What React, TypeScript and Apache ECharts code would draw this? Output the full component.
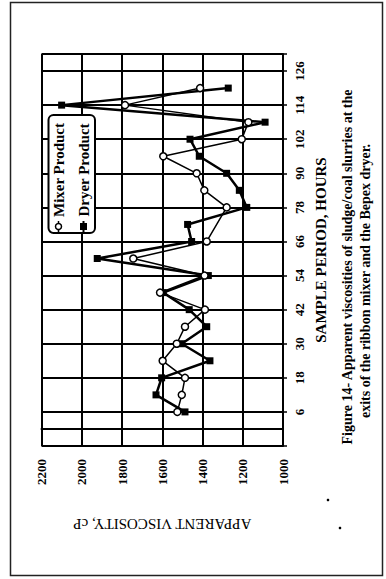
import React, { useEffect, useRef } from "react";
import * as echarts from "echarts";

const hours = [6, 12, 18, 24, 30, 36, 42, 48, 54, 60, 66, 72, 78, 84, 90, 96, 102, 108, 114, 120];
const mixerViscosity = [1525, 1503, 1487, 1598, 1528, 1487, 1388, 1611, 1390, 1744, 1379, null, 1280, 1391, 1429, 1595, 1205, 1172, 1785, 1412];
const dryerViscosity = [1487, 1631, 1603, 1363, 1503, 1379, 1466, 1595, 1371, 1923, 1454, 1474, 1180, 1217, 1280, 1416, 1462, 1089, 2100, 1272];
const hourTicksHidden = [-6, 132];

const seriesNames = ["Mixer Product", "Dryer Product"];
const xTitle = "APPARENT VISCOSITY, cP";
const yTitle = "SAMPLE PERIOD, HOURS";
const captionLines = [
  "Figure 14- Apparent viscosities of sludge/coal slurries at the",
  "exits of the ribbon mixer and the Bepex dryer.",
];

const FONT = "'Liberation Serif', 'Times New Roman', serif";

export default function App() {
  const ref = useRef<HTMLDivElement>(null);
  useEffect(() => {
    if (!ref.current) return;
    const chart = echarts.init(ref.current, undefined, { renderer: "svg" });
    const toPairs = (vals: (number | null)[]) =>
      hours
        .map((h, i) => [vals[i], h])
        .filter((p) => p[0] !== null && p[0] !== undefined);

    const rot = Math.PI / 2;
    chart.setOption({
      animation: false,
      backgroundColor: "#fff",
      grid: { left: 41.5, top: 54, width: 241.5, height: 392 },
      xAxis: {
        type: "value",
        min: 1000,
        max: 2200,
        interval: 200,
        inverse: true,
        position: "bottom",
        name: xTitle,
        nameLocation: "middle",
        nameRotate: 180,
        nameGap: 70,
        nameTextStyle: { fontFamily: FONT, fontSize: 15, color: "#000" },
        axisLine: { show: true, lineStyle: { color: "#000", width: 2 } },
        axisTick: { show: true, length: 5, lineStyle: { color: "#000", width: 1.5 } },
        splitLine: { show: true, lineStyle: { color: "#000", width: 2 } },
        axisLabel: {
          rotate: 90,
          margin: 13,
          fontFamily: FONT,
          fontWeight: "bold",
          fontSize: 13,
          color: "#000",
          formatter: (v: number) => String(v),
        },
      },
      yAxis: {
        type: "value",
        min: -6,
        max: 132,
        interval: 12,
        position: "right",
        name: yTitle,
        nameLocation: "middle",
        nameRotate: 90,
        nameGap: 28,
        nameTextStyle: { fontFamily: FONT, fontSize: 15, fontWeight: "bold", color: "#000" },
        axisLine: { show: true, lineStyle: { color: "#000", width: 2 } },
        axisTick: { show: true, length: 4, lineStyle: { color: "#000", width: 1.5 } },
        splitLine: { show: true, lineStyle: { color: "#000", width: 2 } },
        axisLabel: {
          rotate: 90,
          margin: 10,
          fontFamily: FONT,
          fontWeight: "bold",
          fontSize: 13,
          color: "#000",
          formatter: (v: number) => (hourTicksHidden.includes(v) ? "" : String(v)),
        },
      },
      series: [
        {
          type: "line",
          name: seriesNames[1],
          data: toPairs(dryerViscosity),
          symbol: "rect",
          symbolSize: 7,
          itemStyle: { color: "#000" },
          lineStyle: { color: "#000", width: 2.5 },
          z: 3,
        },
        {
          type: "line",
          name: seriesNames[0],
          data: toPairs(mixerViscosity),
          symbol: "circle",
          symbolSize: 7,
          itemStyle: { color: "#fff", borderColor: "#000", borderWidth: 1.5 },
          lineStyle: { color: "#000", width: 1.5 },
          z: 4,
        },
      ],
      graphic: [
        {
          type: "rect",
          shape: { x: 10.5, y: 2.5, width: 372, height: 573 },
          style: { fill: "none", stroke: "#222", lineWidth: 1.5 },
          silent: true,
          z: 1,
        },
        {
          type: "rect",
          shape: { x: 48.5, y: 115, width: 46.5, height: 118, r: 5 },
          style: { fill: "#fff", stroke: "#000", lineWidth: 2 },
          z: 10,
        },
        {
          type: "line",
          shape: { x1: 58.5, y1: 221, x2: 58.5, y2: 232 },
          style: { stroke: "#000", lineWidth: 1.5 },
          z: 11,
        },
        {
          type: "circle",
          shape: { cx: 58.5, cy: 226.5, r: 3 },
          style: { fill: "#fff", stroke: "#000", lineWidth: 1.5 },
          z: 12,
        },
        {
          type: "line",
          shape: { x1: 83.5, y1: 221, x2: 83.5, y2: 232 },
          style: { stroke: "#000", lineWidth: 2 },
          z: 11,
        },
        {
          type: "rect",
          shape: { x: 80, y: 223, width: 7, height: 7 },
          style: { fill: "#000" },
          z: 12,
        },
        {
          type: "text",
          x: 58.5,
          y: 170,
          rotation: rot,
          style: {
            text: seriesNames[0],
            font: `bold 15px ${FONT}`,
            fill: "#000",
            align: "center",
            verticalAlign: "middle",
          },
          z: 12,
        },
        {
          type: "text",
          x: 83.5,
          y: 170,
          rotation: rot,
          style: {
            text: seriesNames[1],
            font: `bold 15px ${FONT}`,
            fill: "#000",
            align: "center",
            verticalAlign: "middle",
          },
          z: 12,
        },
        {
          type: "text",
          x: 347,
          y: 267,
          rotation: rot,
          style: {
            text: captionLines[0],
            font: `bold 14px ${FONT}`,
            fill: "#000",
            align: "center",
            verticalAlign: "middle",
          },
        },
        {
          type: "text",
          x: 365,
          y: 281,
          rotation: rot,
          style: {
            text: captionLines[1],
            font: `bold 14px ${FONT}`,
            fill: "#000",
            align: "center",
            verticalAlign: "middle",
          },
        },
        {
          type: "circle",
          shape: { cx: 328, cy: 500, r: 1.3 },
          style: { fill: "#000" },
        },
        {
          type: "circle",
          shape: { cx: 340, cy: 528, r: 1.3 },
          style: { fill: "#000" },
        },
      ],
    });
    return () => chart.dispose();
  }, []);
  return (
    <div
      ref={ref}
      style={{ position: "absolute", left: 0, top: 0, width: 386, height: 579, background: "#fff" }}
    />
  );
}
